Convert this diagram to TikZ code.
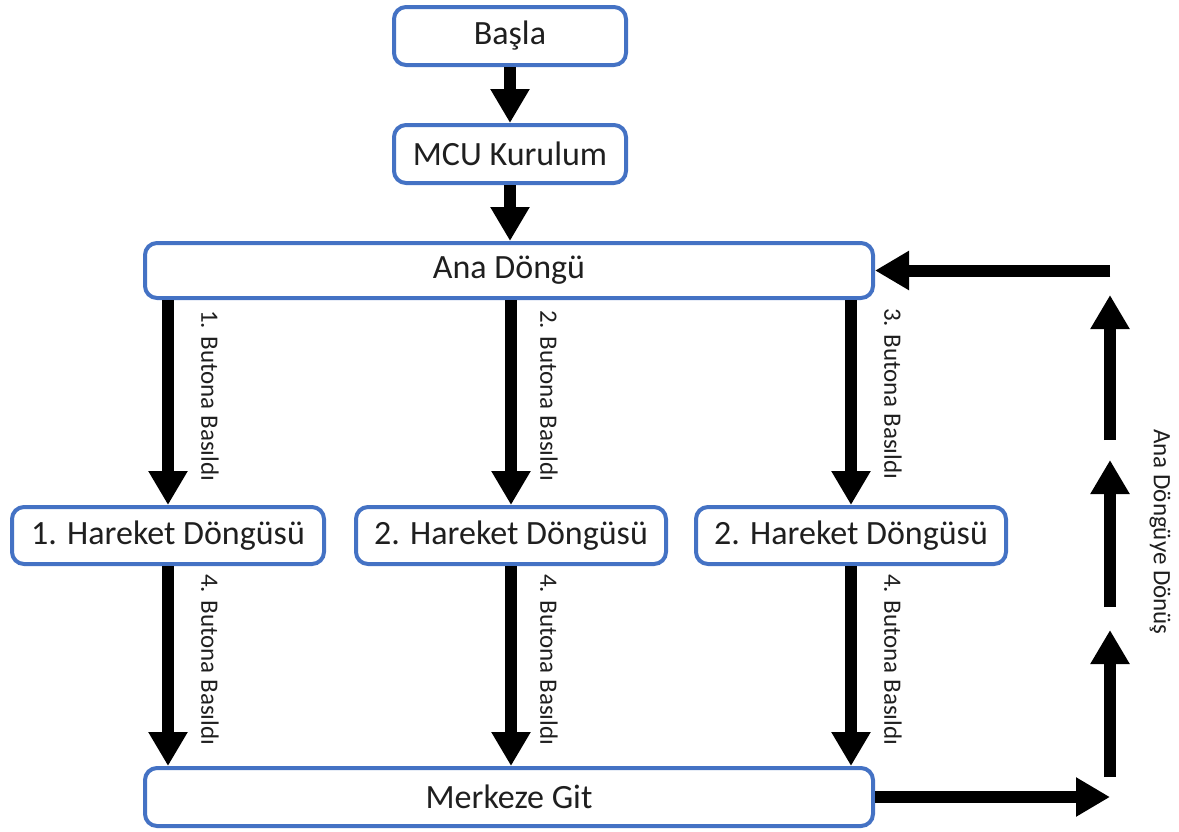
\documentclass[tikz,border=0pt]{standalone}
\usepackage{fontspec}
\setmainfont{Carlito}
\usetikzlibrary{arrows.meta}
\definecolor{boxblue}{HTML}{4472C4}
\begin{document}
\begin{tikzpicture}[x=1pt,y=-1pt,
  box/.style={draw=boxblue, line width=4pt, rounded corners=12pt, fill=white,
    inner sep=0pt, font=\fontsize{34}{40}\selectfont, text=black!88},
  arr/.style={line width=12pt, -{Triangle[length=34pt,width=37pt]}},
  lbl/.style={rotate=-90, inner sep=0pt, font=\fontsize{25}{30}\selectfont, text=black!88}]
\useasboundingbox (0,0) rectangle (1179,831);

% boxes
\node[box, minimum width=232pt, minimum height=58pt] (basla) at (510,36) {Başla};
\node[box, minimum width=232pt, minimum height=58pt] (mcu) at (510,154) {MCU Kurulum};
\node[box, minimum width=728pt, minimum height=55pt] (ana) at (509,270.5) {Ana Döngü};
\node[box, minimum width=312pt, minimum height=57pt] (h1) at (168,535.5) {1. Hareket Döngüsü};
\node[box, minimum width=310pt, minimum height=57pt] (h2) at (511,535.5) {2. Hareket Döngüsü};
\node[box, minimum width=310pt, minimum height=57pt] (h3) at (851,535.5) {2. Hareket Döngüsü};
\node[box, minimum width=728pt, minimum height=58pt] (merkez) at (509,797) {Merkeze Git};

% main flow
\draw[arr] (basla) -- (mcu);
\draw[arr] (mcu) -- (mcu |- ana.north);
\draw[arr] (ana.south -| h1.north) -- (h1.north);
\draw[arr] (ana.south -| h2.north) -- (h2.north);
\draw[arr] (ana.south -| h3.north) -- (h3.north);
\draw[arr] (h1.south) -- (merkez.north -| h1.south);
\draw[arr] (h2.south) -- (merkez.north -| h2.south);
\draw[arr] (h3.south) -- (merkez.north -| h3.south);

% return path to the main loop
\coordinate (rx) at (1110,0);
\coordinate (s1a) at (1110,777);
\coordinate (s1b) at (1110,630);
\coordinate (s2a) at (1110,607);
\coordinate (s2b) at (1110,460);
\coordinate (s3a) at (1110,440);
\coordinate (s3b) at (1110,295);
\draw[arr] (merkez.east) -- (merkez.east -| rx);
\draw[arr] (s1a) -- (s1b);
\draw[arr] (s2a) -- (s2b);
\draw[arr] (s3a) -- (s3b);
\draw[arr] (ana.east -| rx) -- (ana.east);

% labels
\node[lbl, anchor=west] (l1) at (210,310) {1. Butona Basıldı};
\node[lbl, anchor=west] (l2) at (549,310) {2. Butona Basıldı};
\node[lbl, anchor=west] (l3) at (893,308) {3. Butona Basıldı};
\node[lbl, anchor=west] (l4) at (210,574) {4. Butona Basıldı};
\node[lbl, anchor=west] (l5) at (549,574) {4. Butona Basıldı};
\node[lbl, anchor=west] (l6) at (893,574) {4. Butona Basıldı};
\node[lbl] (l7) at (1160,532) {Ana Döngüye Dönüş};
\end{tikzpicture}
\end{document}
